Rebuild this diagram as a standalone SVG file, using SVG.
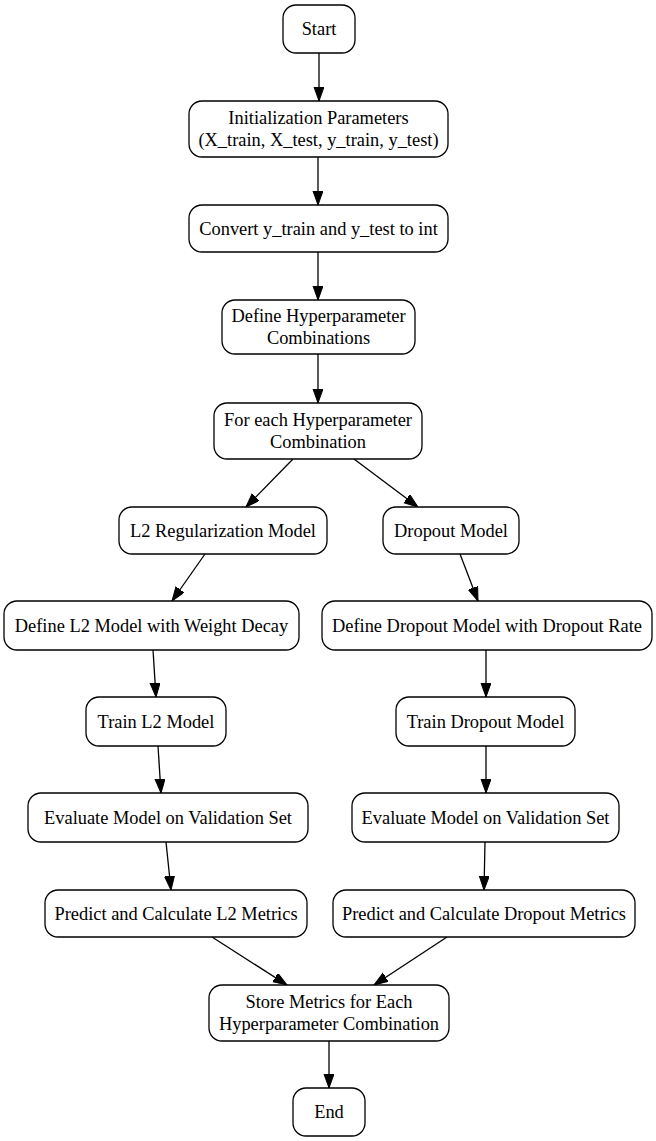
<svg xmlns="http://www.w3.org/2000/svg" width="656" height="1141" viewBox="0 0 656 1141">
<style>
.n rect{fill:#fff;stroke:#000;stroke-width:1.3}
.n text{font-family:"Liberation Serif","Times New Roman",serif;font-size:18.4px;text-anchor:middle;dominant-baseline:central;fill:#000}
.e line{stroke:#000;stroke-width:1.3;marker-end:url(#a)}
</style>
<defs>
<marker id="a" markerUnits="userSpaceOnUse" markerWidth="15" markerHeight="11" refX="14" refY="5" orient="auto">
<path d="M0,0 L14,5 L0,10 z" fill="#000" stroke="#000" stroke-width="1"/>
</marker>
</defs>
<rect width="656" height="1141" fill="#fff"/>
<g class="e">
<line x1="319" y1="53" x2="319" y2="101"/>
<line x1="318" y1="157" x2="318" y2="205"/>
<line x1="318" y1="252" x2="318" y2="300"/>
<line x1="318" y1="354" x2="318" y2="403"/>
<line x1="293" y1="459" x2="246" y2="507"/>
<line x1="354" y1="459" x2="418" y2="507"/>
<line x1="205" y1="554" x2="172" y2="601"/>
<line x1="460" y1="554" x2="478" y2="601"/>
<line x1="153" y1="650" x2="156" y2="697"/>
<line x1="486" y1="650" x2="486" y2="697"/>
<line x1="158" y1="746" x2="161" y2="793"/>
<line x1="486" y1="746" x2="486" y2="793"/>
<line x1="166" y1="842" x2="171" y2="890"/>
<line x1="485" y1="842" x2="484" y2="890"/>
<line x1="212" y1="937" x2="287" y2="985"/>
<line x1="447" y1="937" x2="374" y2="985"/>
<line x1="329" y1="1041" x2="329" y2="1088"/>
</g>
<g id="start" class="n"><rect x="283" y="5" width="72" height="48" rx="13"/><text x="319" y="29">Start</text></g>
<g id="init" class="n"><rect x="189" y="101" width="259" height="56" rx="13"/><text x="318.5" y="118">Initialization Parameters</text><text x="318.5" y="140">(X_train, X_test, y_train, y_test)</text></g>
<g id="convert" class="n"><rect x="189" y="205" width="259" height="47" rx="13"/><text x="318.5" y="228.5">Convert y_train and y_test to int</text></g>
<g id="defhyper" class="n"><rect x="222" y="300" width="193" height="54" rx="13"/><text x="318.5" y="316">Define Hyperparameter</text><text x="318.5" y="338">Combinations</text></g>
<g id="foreach" class="n"><rect x="214" y="403" width="208" height="56" rx="13"/><text x="318" y="420">For each Hyperparameter</text><text x="318" y="442">Combination</text></g>
<g id="l2reg" class="n"><rect x="119" y="507" width="208" height="47" rx="13"/><text x="223" y="530.5">L2 Regularization Model</text></g>
<g id="dropout" class="n"><rect x="383" y="507" width="136" height="47" rx="13"/><text x="451" y="530.5">Dropout Model</text></g>
<g id="defl2" class="n"><rect x="4" y="601" width="295" height="49" rx="13"/><text x="151.5" y="625.5">Define L2 Model with Weight Decay</text></g>
<g id="defdrop" class="n"><rect x="322" y="601" width="330" height="49" rx="13"/><text x="487" y="625.5">Define Dropout Model with Dropout Rate</text></g>
<g id="trainl2" class="n"><rect x="86" y="697" width="140" height="49" rx="13"/><text x="156" y="721.5">Train L2 Model</text></g>
<g id="traindrop" class="n"><rect x="396" y="697" width="179" height="49" rx="13"/><text x="485.5" y="721.5">Train Dropout Model</text></g>
<g id="evall2" class="n"><rect x="28" y="793" width="280" height="49" rx="13"/><text x="168" y="817.5">Evaluate Model on Validation Set</text></g>
<g id="evaldrop" class="n"><rect x="352" y="793" width="267" height="49" rx="13"/><text x="485.5" y="817.5">Evaluate Model on Validation Set</text></g>
<g id="predl2" class="n"><rect x="45" y="890" width="262" height="47" rx="13"/><text x="176" y="913.5">Predict and Calculate L2 Metrics</text></g>
<g id="preddrop" class="n"><rect x="333" y="890" width="302" height="47" rx="13"/><text x="484" y="913.5">Predict and Calculate Dropout Metrics</text></g>
<g id="store" class="n"><rect x="209" y="985" width="240" height="56" rx="13"/><text x="329" y="1002">Store Metrics for Each</text><text x="329" y="1024">Hyperparameter Combination</text></g>
<g id="end" class="n"><rect x="293" y="1088" width="72" height="48" rx="13"/><text x="329" y="1112">End</text></g>
</svg>
